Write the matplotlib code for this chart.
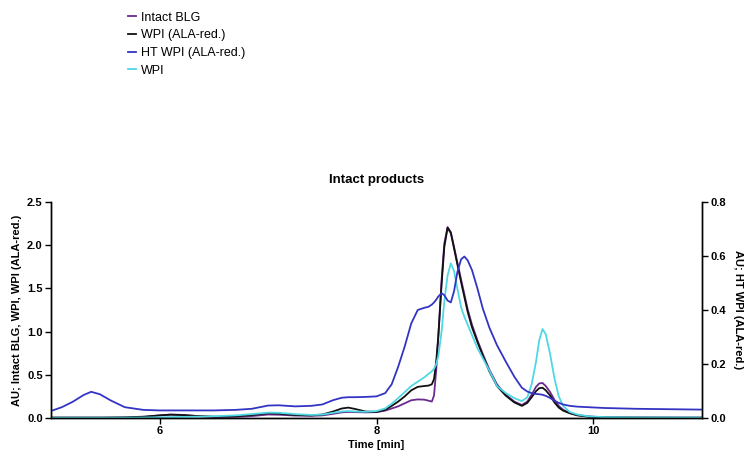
import matplotlib

matplotlib.use("Agg")
import matplotlib.pyplot as plt
from matplotlib.lines import Line2D

plt.rcParams["font.family"] = ["Liberation Sans", "DejaVu Sans"]

# retention time grid [min], shared by all four traces
time_min = [5.0, 5.1, 5.2, 5.3, 5.37, 5.45, 5.55, 5.68, 5.85, 6.0,
            6.1, 6.2, 6.35, 6.5, 6.7, 6.85, 7.0, 7.1, 7.25, 7.4,
            7.5, 7.6, 7.68, 7.74, 7.8, 7.9, 8.0, 8.08, 8.14, 8.2,
            8.26, 8.32, 8.38, 8.44, 8.48, 8.51, 8.53, 8.55, 8.57, 8.6,
            8.625, 8.655, 8.685, 8.715, 8.745, 8.78, 8.81, 8.84, 8.88, 8.93,
            8.98, 9.04, 9.11, 9.19, 9.27, 9.34, 9.39, 9.43, 9.47, 9.5,
            9.53, 9.56, 9.6, 9.64, 9.68, 9.72, 9.78, 9.85, 9.95, 10.1,
            10.4, 10.8, 11.0]

# left axis traces
intact_blg = [0.003, 0.003, 0.003, 0.003, 0.003, 0.003, 0.003, 0.004, 0.010, 0.030,
              0.040, 0.036, 0.022, 0.012, 0.012, 0.022, 0.040, 0.038, 0.028, 0.025,
              0.030, 0.048, 0.065, 0.070, 0.068, 0.065, 0.068, 0.085, 0.110, 0.135,
              0.170, 0.205, 0.215, 0.212, 0.200, 0.190, 0.260, 0.550, 0.950, 1.600,
              2.020, 2.210, 2.150, 1.980, 1.800, 1.600, 1.430, 1.260, 1.080, 0.900,
              0.740, 0.560, 0.390, 0.270, 0.190, 0.150, 0.190, 0.270, 0.360, 0.400,
              0.405, 0.370, 0.300, 0.210, 0.140, 0.095, 0.060, 0.035, 0.018, 0.008,
              0.005, 0.004, 0.004]

wpi_ala_red = [0.005, 0.005, 0.005, 0.005, 0.005, 0.005, 0.006, 0.008, 0.015, 0.030,
               0.038, 0.035, 0.022, 0.015, 0.020, 0.035, 0.055, 0.050, 0.035, 0.030,
               0.040, 0.075, 0.110, 0.120, 0.105, 0.075, 0.070, 0.095, 0.140, 0.190,
               0.250, 0.320, 0.360, 0.370, 0.375, 0.390, 0.450, 0.650, 0.950, 1.550,
               1.980, 2.200, 2.140, 1.960, 1.780, 1.570, 1.400, 1.230, 1.050, 0.880,
               0.720, 0.540, 0.370, 0.260, 0.180, 0.140, 0.175, 0.240, 0.310, 0.345,
               0.350, 0.320, 0.260, 0.180, 0.120, 0.085, 0.055, 0.030, 0.015, 0.008,
               0.005, 0.004, 0.004]

wpi = [0.003, 0.003, 0.003, 0.003, 0.003, 0.003, 0.003, 0.004, 0.005, 0.008,
       0.010, 0.012, 0.015, 0.020, 0.030, 0.045, 0.062, 0.060, 0.045, 0.035,
       0.040, 0.060, 0.075, 0.080, 0.075, 0.072, 0.080, 0.110, 0.165, 0.230,
       0.300, 0.370, 0.420, 0.470, 0.510, 0.540, 0.570, 0.620, 0.720, 1.000,
       1.350, 1.650, 1.790, 1.700, 1.500, 1.280, 1.170, 1.080, 0.960, 0.810,
       0.690, 0.550, 0.370, 0.290, 0.230, 0.195, 0.240, 0.390, 0.650, 0.900,
       1.030, 0.970, 0.740, 0.460, 0.250, 0.140, 0.070, 0.040, 0.020, 0.010,
       0.006, 0.005, 0.005]

# right axis trace
ht_wpi_ala_red = [0.026, 0.040, 0.060, 0.085, 0.097, 0.088, 0.065, 0.040, 0.030, 0.028,
                  0.028, 0.028, 0.028, 0.028, 0.030, 0.034, 0.046, 0.047, 0.043, 0.045,
                  0.050, 0.066, 0.075, 0.077, 0.077, 0.078, 0.080, 0.092, 0.125, 0.190,
                  0.265, 0.350, 0.400, 0.408, 0.412, 0.420, 0.428, 0.438, 0.450, 0.462,
                  0.455, 0.435, 0.428, 0.470, 0.540, 0.588, 0.598, 0.584, 0.548, 0.480,
                  0.405, 0.335, 0.270, 0.210, 0.153, 0.112, 0.098, 0.092, 0.089, 0.088,
                  0.086, 0.082, 0.074, 0.064, 0.056, 0.050, 0.045, 0.042, 0.040, 0.037,
                  0.034, 0.032, 0.031]

labels = ["Intact BLG", "WPI (ALA-red.)", "HT WPI (ALA-red.)", "WPI"]
colors = ["#6a2a8e", "#111111", "#3434c4", "#4fd8e4"]
left_ticks = [0.0, 0.5, 1.0, 1.5, 2.0, 2.5]
right_ticks = [0.0, 0.2, 0.4, 0.6, 0.8]
x_ticks = [6, 8, 10]

lw = 1.3
fig = plt.figure(figsize=(7.46, 4.53), dpi=100)
ax = fig.add_axes([0.0684, 0.0773, 0.8726, 0.4768])
ax.plot(time_min, intact_blg, color=colors[0], lw=lw)
ax.plot(time_min, wpi_ala_red, color=colors[1], lw=lw)
ax.plot(time_min, wpi, color=colors[3], lw=lw)
ax.set_xlim(5, 11)
ax.set_ylim(0, 2.5)
ax.set_xticks(x_ticks)
ax.set_yticks(left_ticks)
ax.set_yticklabels([f"{v:.1f}" for v in left_ticks])

ax2 = ax.twinx()
ax2.plot(time_min, ht_wpi_ala_red, color=colors[2], lw=lw)
ax2.set_ylim(0, 0.8)
ax2.set_yticks(right_ticks)
ax2.set_yticklabels([f"{v:.1f}" for v in right_ticks])

for a in (ax, ax2):
    a.spines["top"].set_visible(False)
    for s in a.spines.values():
        s.set_linewidth(1.0)
    a.tick_params(direction="out", length=4, width=1.0, labelsize=8, pad=2)
    for lab in a.get_xticklabels() + a.get_yticklabels():
        lab.set_fontweight("bold")

ax.set_xlabel("Time [min]", fontsize=8, fontweight="bold", labelpad=3)
ax.set_ylabel("AU; Intact BLG, WPI, WPI (ALA-red.)", fontsize=8,
              fontweight="bold", labelpad=4)
ax2.set_ylabel("AU; HT WPI (ALA-red.)", fontsize=8, fontweight="bold",
               rotation=270, labelpad=12)
ax.set_title("Intact products", fontsize=9.5, fontweight="bold", pad=14)

handles = [Line2D([], [], color=c, lw=lw) for c in colors]
fig.legend(handles, labels, loc="upper left", bbox_to_anchor=(0.165, 0.985),
           frameon=False, fontsize=9, handlelength=0.6, handletextpad=0.4,
           labelspacing=0.45, borderaxespad=0, borderpad=0.4)

fig.savefig("out.png", dpi=100)
